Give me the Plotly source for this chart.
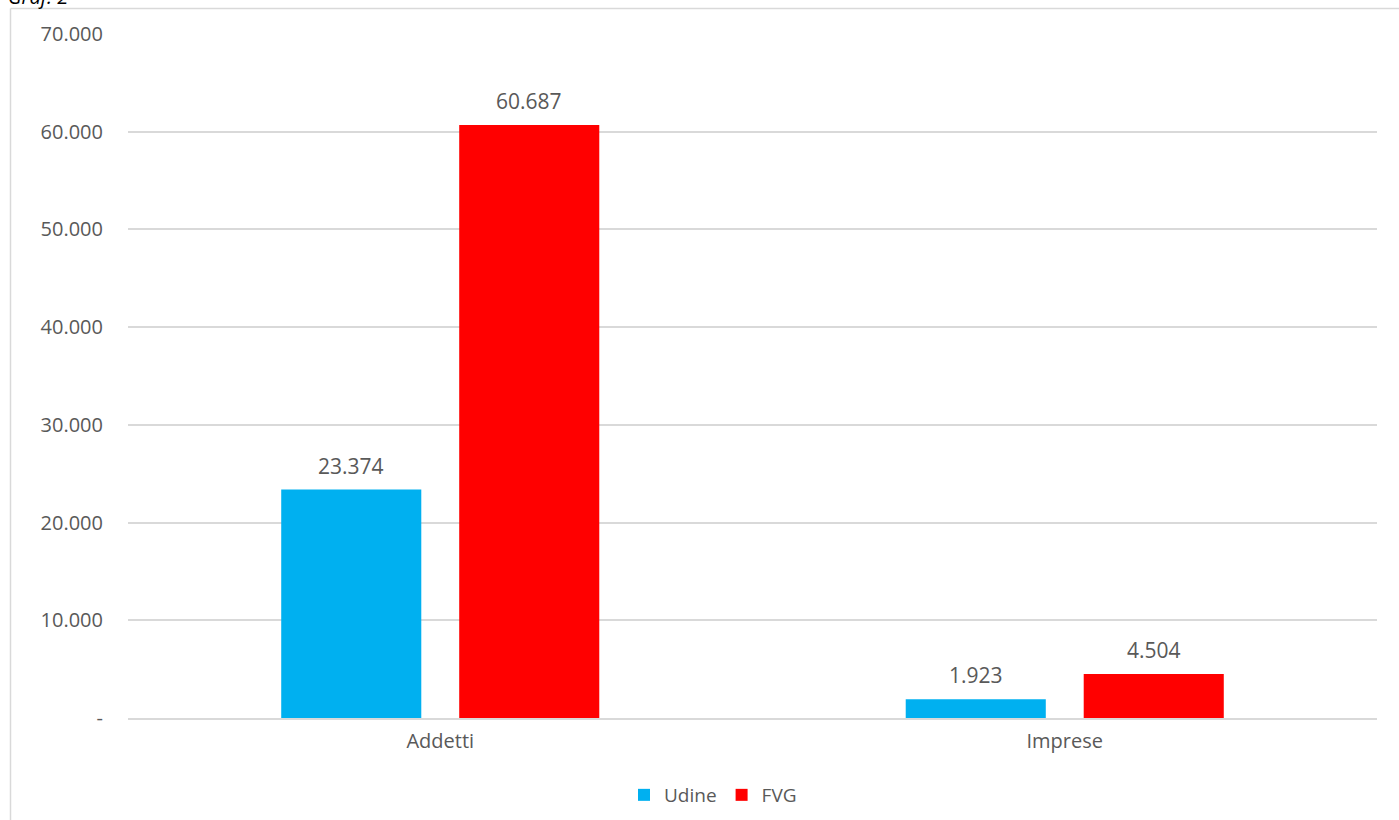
import plotly.graph_objects as go

categories = ["Addetti", "Imprese"]
udine = [23374, 1923]
fvg = [60687, 4504]
series_names = ["Udine", "FVG"]
tick_vals = [0, 10000, 20000, 30000, 40000, 50000, 60000, 70000]
tick_text = ["-", "10.000", "20.000", "30.000", "40.000", "50.000", "60.000", "70.000"]

W, H = 1399, 820
L, R, T, B = 128, 22, 34, 102
pw, ph = W - L - R, H - T - B

def px(x):
    return (x - L) / pw

def py(y):
    return (H - B - y) / ph

FAM = "Open Sans, Noto Sans, sans-serif"
GREY = "#595959"
font = dict(family=FAM, size=20, color=GREY)

fig = go.Figure()
fig.add_trace(go.Bar(name=series_names[0], x=categories, y=udine, marker_color="#00B0F0",
                     marker_line_width=0))
fig.add_trace(go.Bar(name=series_names[1], x=categories, y=fvg, marker_color="#FF0000",
                     marker_line_width=0))

# data labels
for vals, shift in ((udine, -89), (fvg, 89)):
    for c, v in zip(categories, vals):
        fig.add_annotation(x=c, y=v, text=f"{v:,}".replace(",", "."), showarrow=False,
                           xshift=shift, yshift=24, yanchor="middle",
                           font=dict(family=FAM, size=21, color=GREY))

# frame
fig.add_shape(type="line", xref="paper", yref="paper", x0=px(10.5), x1=px(1399), y0=py(8.5), y1=py(8.5),
              line=dict(color="#D9D9D9", width=1.5))
fig.add_shape(type="line", xref="paper", yref="paper", x0=px(10.5), x1=px(10.5), y0=py(8.5), y1=py(820),
              line=dict(color="#D9D9D9", width=1.5))

fig.add_annotation(xref="paper", yref="paper", x=px(6), y=py(12), xanchor="left", yanchor="bottom",
                   text="<i>Graf. 2</i>", showarrow=False,
                   font=dict(family=FAM, size=20, color="#000000"))

fig.update_layout(
    width=W, height=H,
    margin=dict(l=L, r=R, t=T, b=B, autoexpand=False),
    paper_bgcolor="white", plot_bgcolor="white",
    barmode="group", bargap=0.43, bargroupgap=0.213,
    font=font,
    showlegend=True,
    legend=dict(orientation="h", x=px(713), y=py(795), xanchor="center", yanchor="middle",
                font=dict(family=FAM, size=19, color=GREY),
                itemwidth=30, traceorder="normal"),
    xaxis=dict(showgrid=False, showline=True, linecolor="#D9D9D9", linewidth=1.5,
               ticks="", tickfont=dict(family=FAM, size=20, color=GREY), ticklabelstandoff=4),
    yaxis=dict(range=[0, 70000], tickvals=tick_vals, ticktext=tick_text,
               showgrid=True, gridcolor="#D9D9D9", gridwidth=1.5, zeroline=False,
               showline=False, ticks="", tickfont=dict(family=FAM, size=20, color=GREY),
               ticklabelstandoff=24),
)

fig.write_html("out.html")
